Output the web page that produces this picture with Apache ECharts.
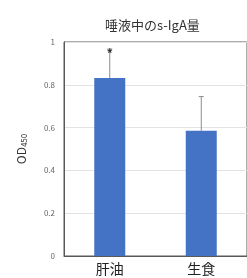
<!DOCTYPE html>
<html>
<head>
<meta charset="utf-8">
<script src="https://cdn.jsdelivr.net/npm/echarts@6/dist/echarts.min.js"></script>
<style>
  html, body { margin: 0; padding: 0; background: #fff; }
  #chart { width: 247px; height: 278px; }
</style>
</head>
<body>
<div id="chart"></div>
<script>
const categories = ['肝油', '生食']
const means = [0.832, 0.585]
const errTops = [0.967, 0.745]
const marks = ['*', '']
const yTicks = [0, 0.2, 0.4, 0.6, 0.8, 1]

const font = '"Noto Sans CJK JP", "Noto Sans", sans-serif'
const chart = echarts.init(document.getElementById('chart'))

// error whiskers drawn on top of the bars
function renderErr(params, api) {
  const i = api.value(0)
  const base = api.coord([i, api.value(1)])
  const top = api.coord([i, api.value(2)])
  const kids = [
    { type: 'line', shape: { x1: base[0], y1: base[1], x2: top[0], y2: top[1] }, style: { stroke: '#8c8c8c', lineWidth: 1 } },
    { type: 'line', shape: { x1: top[0] - 2.5, y1: top[1], x2: top[0] + 2.5, y2: top[1] }, style: { stroke: '#8c8c8c', lineWidth: 1 } },
  ]
  if (marks[i]) {
    kids.push({ type: 'text', x: top[0], y: top[1] + 4, style: { text: marks[i], fill: '#333', font: 'bold 12px ' + font, align: 'center', verticalAlign: 'middle' } })
  }
  return { type: 'group', children: kids }
}

chart.setOption({
  animation: false,
  backgroundColor: '#fff',
  title: {
    text: '唾液中のs-IgA量',
    left: 100,
    top: 14,
    textStyle: { fontFamily: font, fontSize: 13, fontWeight: 'normal', color: '#333' },
  },
  grid: { left: 64, top: 42, width: 193, height: 214, show: true, borderColor: '#595959', borderWidth: 1 },
  xAxis: {
    type: 'category',
    data: categories,
    axisLine: { lineStyle: { color: '#595959' } },
    axisTick: { show: false },
    axisLabel: { fontFamily: font, fontSize: 14, color: '#222', margin: 6 },
  },
  yAxis: {
    type: 'value',
    min: 0,
    max: 1,
    interval: 0.2,
    name: '{a|OD}{b|450}',
    nameLocation: 'middle',
    nameGap: 36,
    nameTextStyle: {
      rich: {
        a: { fontFamily: font, fontSize: 12, color: '#333' },
        b: { fontFamily: font, fontSize: 8, color: '#333', padding: [5, 0, 0, 0] },
      },
    },
    axisLine: { show: true, lineStyle: { color: '#595959' } },
    axisTick: { show: false },
    splitLine: { lineStyle: { color: '#e3e3e3' } },
    axisLabel: {
      fontFamily: font, fontSize: 8, color: '#666', margin: 9,
      formatter: (v) => (yTicks.includes(Math.round(v * 10) / 10) ? String(Math.round(v * 10) / 10) : ''),
    },
  },
  series: [
    {
      type: 'bar',
      data: means,
      barWidth: 31,
      itemStyle: { color: '#4472C4' },
    },
    {
      type: 'custom',
      renderItem: renderErr,
      data: categories.map((c, i) => [i, means[i], errTops[i]]),
      encode: { x: 0, y: [1, 2] },
      z: 5,
    },
  ],
})
</script>
</body>
</html>
